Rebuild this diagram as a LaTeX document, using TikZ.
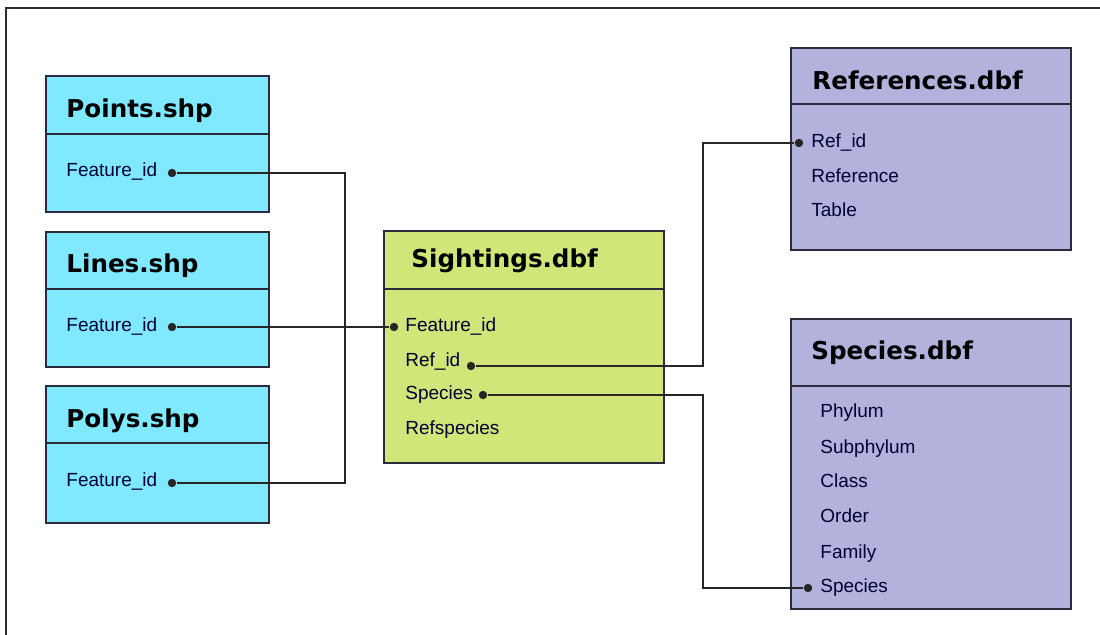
\documentclass[tikz,border=0pt]{standalone}
\usepackage{fontspec}
\setmainfont{Liberation Sans}
\newfontfamily\headfont{DejaVu Sans}
\usetikzlibrary{positioning}
\definecolor{shpblue}{RGB}{128,232,255}
\definecolor{dbfgreen}{RGB}{208,230,120}
\definecolor{dbfviolet}{RGB}{178,178,220}
\definecolor{edgegray}{RGB}{42,44,60}

\begin{document}
\begin{tikzpicture}[x=0.5pt,y=-0.5pt,
      dbtable/.style={
         rectangle,
         inner sep=0pt,
         draw=edgegray,
         line width=1pt,
         anchor=north west
      },
      shp/.style={dbtable, fill=shpblue, minimum width=111.5pt},
      dbf/.style={dbtable, minimum width=140pt},
      divider/.style={draw=edgegray, line width=0.9pt},
      tabtitle/.style={
         anchor=base west, inner sep=0pt,
         font=\headfont\bfseries\fontsize{12.3}{14}\selectfont
      },
      tabfield/.style={
         anchor=base west, inner sep=0pt, text=black!80!blue,
         font=\fontsize{9.5}{11}\selectfont
      },
      pin/.style={circle, fill=black!85, inner sep=0pt, minimum size=4.2pt},
      link/.style={draw=black!85, line width=0.75pt},
      point/.style={coordinate}
    ]
    \useasboundingbox (0,0) rectangle (1100,635);
    % open frame round the page
    \draw[edgegray, line width=1pt] (6,650) |- (1110,8);

    % shape files
    \node[shp, minimum height=68pt] (points) at (45,75) {};
    \draw[divider] (points.west |- 0,134) -- (points.east |- 0,134);
    \node[tabtitle] (pointsT) at (66,118) {Points.shp};
    \node[tabfield] (pointsF) at (66,177) {Feature\_id};

    \node[shp, minimum height=67.5pt] (lines) at (45,231) {};
    \draw[divider] (lines.west |- 0,289) -- (lines.east |- 0,289);
    \node[tabtitle] (linesT) at (66,273) {Lines.shp};
    \node[tabfield] (linesF) at (66,332) {Feature\_id};

    \node[shp, minimum height=68.5pt] (polys) at (45,385) {};
    \draw[divider] (polys.west |- 0,443) -- (polys.east |- 0,443);
    \node[tabtitle] (polysT) at (66,428) {Polys.shp};
    \node[tabfield] (polysF) at (66,487) {Feature\_id};

    % sightings table
    \node[dbf, fill=dbfgreen, minimum height=116pt] (sight) at (383,230) {};
    \draw[divider] (sight.west |- 0,289) -- (sight.east |- 0,289);
    \node[tabtitle] (sightT) at (411,268) {Sightings.dbf};
    \node[tabfield] (sightF) at (405,332) {Feature\_id};
    \node[tabfield] (sightR) at (405,367) {Ref\_id};
    \node[tabfield] (sightS) at (405,400) {Species};
    \node[tabfield] (sightX) at (405,435) {Refspecies};

    % references table
    \node[dbf, fill=dbfviolet, minimum height=101pt] (refs) at (790,47) {};
    \draw[divider] (refs.west |- 0,104) -- (refs.east |- 0,104);
    \node[tabtitle] (refsT) at (812,90) {References.dbf};
    \node[tabfield] (refsR) at (811,148) {Ref\_id};
    \node[tabfield] (refsN) at (811,183) {Reference};
    \node[tabfield] (refsB) at (811,217) {Table};

    % species table
    \node[dbf, fill=dbfviolet, minimum height=145pt] (spec) at (790,318) {};
    \draw[divider] (spec.west |- 0,386) -- (spec.east |- 0,386);
    \node[tabtitle] (specT) at (811,360) {Species.dbf};
    \node[tabfield] (specP) at (820,418) {Phylum};
    \node[tabfield] (specU) at (820,454) {Subphylum};
    \node[tabfield] (specC) at (820,488) {Class};
    \node[tabfield] (specO) at (820,523) {Order};
    \node[tabfield] (specF) at (820,559) {Family};
    \node[tabfield] (specS) at (820,593) {Species};

    % key pins
    \node[pin] (pointsD) at (172,173) {};
    \node[pin] (linesD) at (172,327) {};
    \node[pin] (polysD) at (172,483) {};
    \node[pin] (sightFD) at (394,327) {};
    \node[pin] (sightRD) at (471,366) {};
    \node[pin] (sightSD) at (483,395) {};
    \node[pin] (refsD) at (799,143) {};
    \node[pin] (specD) at (808,588) {};

    % joins
    \node[point] (leftbus) at (345,0) {};
    \node[point] (rightbus) at (703,0) {};
    \draw[link] (pointsD) -| (leftbus |- polysD) -- (polysD);
    \draw[link] (linesD) -- (sightFD);
    \draw[link] (sightRD) -| (rightbus |- refsD) -- (refsD);
    \draw[link] (sightSD) -| (rightbus |- specD) -- (specD);
\end{tikzpicture}
\end{document}
